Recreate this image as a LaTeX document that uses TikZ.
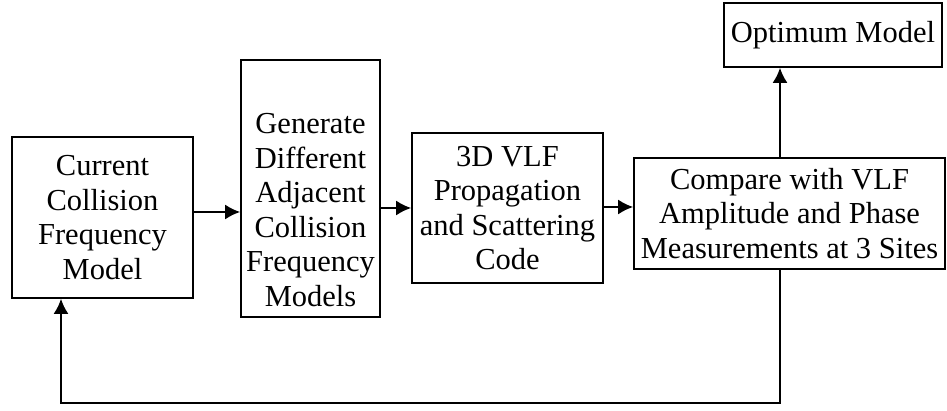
\documentclass[tikz,border=0pt]{standalone}
\usepackage{fontspec}
\setmainfont{Liberation Serif}
\usetikzlibrary{arrows.meta}
\tikzset{>={Latex[length=7.5pt,width=7.5pt]}}
\tikzstyle{block}=[draw,line width=0.8pt,align=center,inner sep=0pt,font=\fontsize{15.25}{17.25}\selectfont]
\tikzstyle{flow}=[->,line width=1.1pt]

\begin{document}
\begin{tikzpicture}[x=0.5pt,y=0.5pt]
  \useasboundingbox (0,0) rectangle (947,411);
  % blocks
  \node[block,minimum width=90.5pt,minimum height=80.5pt] (current) at (102.5,193.5)
    {Current\\Collision\\Frequency\\Model};
  \node[block,minimum width=69.5pt,minimum height=128.5pt] (gen) at (310.5,222.5)
    {\raisebox{-14.5pt}[0pt][0pt]{\parbox{69.5pt}{\centering Generate\\Different\\Adjacent\\Collision\\Frequency\\Models}}};
  \node[block,minimum width=95.5pt,minimum height=75pt] (vlf) at (507.5,203)
    {3D VLF\\Propagation\\and Scattering\\Code};
  \node[block,minimum width=155.5pt,minimum height=55.5pt] (cmp) at (789.5,197.5)
    {Compare with VLF\\Amplitude and Phase\\Measurements at 3 Sites};
  \node[block,minimum width=109pt,minimum height=32pt] (opt) at (833,376) {Optimum Model};
  % connectors
  \coordinate (row1) at (0,199);
  \coordinate (row2) at (0,203);
  \coordinate (row3) at (0,204);
  \coordinate (tap) at (780,0);
  \coordinate (fb) at (61,8);
  \draw[flow] (current.east |- row1) -- (gen.west |- row1);
  \draw[flow] (gen.east |- row2) -- (vlf.west |- row2);
  \draw[flow] (vlf.east |- row3) -- (cmp.west |- row3);
  \draw[flow] (cmp.north -| tap) -- (opt.south -| tap);
  \draw[flow] (cmp.south -| tap) |- (fb) -- (current.south -| fb);
\end{tikzpicture}
\end{document}
